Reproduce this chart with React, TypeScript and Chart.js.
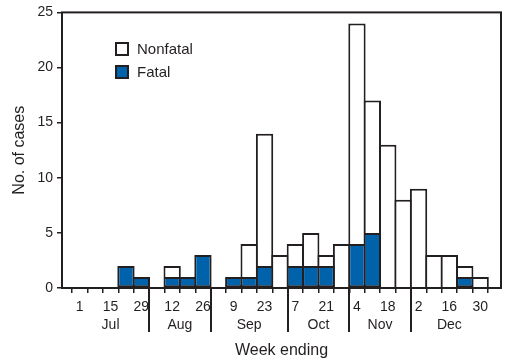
import React, { useEffect, useRef } from 'react';
import { Chart, registerables } from 'chart.js';

Chart.register(...registerables);

// Week-ending day labels (Jul 1 ... Dec 30)
const weekDays = ['1', '8', '15', '22', '29', '5', '12', '19', '26', '2', '9', '16', '23', '30', '7', '14', '21', '28', '4', '11', '18', '25', '2', '9', '16', '23', '30'];
// Total cases per week
const totalCases = [0, 0, 0, 2, 1, 0, 2, 1, 3, 0, 1, 4, 14, 3, 4, 5, 3, 4, 24, 17, 13, 8, 9, 3, 3, 2, 1];
// Fatal cases per week
const fatalCases = [0, 0, 0, 2, 1, 0, 1, 1, 3, 0, 1, 1, 2, 0, 2, 2, 2, 0, 4, 5, 0, 0, 0, 0, 0, 1, 0];
const months = ['Jul', 'Aug', 'Sep', 'Oct', 'Nov', 'Dec'];
const monthWeekCounts = [5, 4, 5, 4, 4, 5];
const yTickValues = [0, 5, 10, 15, 20, 25];

const INK = '#231f20';
const BLUE = '#0062ab';
const FONT = '"Liberation Sans", Arial, Helvetica, sans-serif';

const nonfatalCases = totalCases.map((t, i) => t - fatalCases[i]);

const decorPlugin = {
  id: 'decor',
  afterDatasetsDraw(chart: any) {
    const { ctx, chartArea: ca } = chart;
    ctx.save();
    ctx.strokeStyle = INK;
    ctx.lineWidth = 2;
    ctx.strokeRect(ca.left, ca.top, ca.right - ca.left, ca.bottom - ca.top);
    ctx.restore();
  },
  afterDraw(chart: any) {
    const { ctx, chartArea: ca } = chart;
    const x = chart.scales.x;
    ctx.save();
    // month separators and labels
    ctx.strokeStyle = INK;
    ctx.lineWidth = 2;
    ctx.fillStyle = INK;
    ctx.font = `14px ${FONT}`;
    ctx.textAlign = 'center';
    ctx.textBaseline = 'middle';
    let start = 0;
    months.forEach((m, mi) => {
      const count = monthWeekCounts[mi];
      const center = x.getPixelForValue(start + (count - 1) / 2);
      ctx.fillText(m, center, 325);
      start += count;
      if (mi < months.length - 1) {
        const px = Math.round(x.getPixelForValue(start - 0.5));
        ctx.beginPath();
        ctx.moveTo(px, ca.bottom);
        ctx.lineTo(px, 332);
        ctx.stroke();
      }
    });
    // legend
    const entries = [
      { label: 'Nonfatal', fill: '#ffffff', y: 43 },
      { label: 'Fatal', fill: BLUE, y: 66 },
    ];
    ctx.font = `15px ${FONT}`;
    ctx.textAlign = 'left';
    entries.forEach((e) => {
      ctx.fillStyle = e.fill;
      ctx.fillRect(116, e.y, 12, 12);
      ctx.strokeStyle = INK;
      ctx.lineWidth = 2;
      ctx.strokeRect(116, e.y, 12, 12);
      ctx.fillStyle = INK;
      ctx.fillText(e.label, 137, e.y + 6.5);
    });
    ctx.restore();
  },
};

export default function App() {
  const ref = useRef<HTMLCanvasElement | null>(null);

  useEffect(() => {
    document.body.style.margin = '0';
    const canvas = ref.current;
    if (!canvas) return;
    Chart.defaults.font.family = FONT;
    const chart = new Chart(canvas, {
      type: 'bar',
      data: {
        datasets: [
          {
            label: 'Fatal',
            data: fatalCases.map((v, i) => ({ x: i, y: v > 0 ? v : null })),
            backgroundColor: BLUE,
            borderColor: INK,
            borderWidth: 2,
            borderSkipped: false,
            inflateAmount: 0,
            barPercentage: 1.125,
            categoryPercentage: 1,
          } as any,
          {
            label: 'Nonfatal',
            data: nonfatalCases.map((v, i) => ({ x: i, y: v > 0 ? v : null })),
            backgroundColor: '#ffffff',
            borderColor: INK,
            borderWidth: { top: 2, left: 2, right: 2, bottom: 0 },
            borderSkipped: false,
            inflateAmount: 0,
            barPercentage: 1.125,
            categoryPercentage: 1,
          } as any,
        ],
      },
      options: {
        animation: false,
        responsive: false,
        devicePixelRatio: 1,
        layout: { padding: { left: 0, right: 25, top: 12, bottom: 0 } },
        plugins: {
          legend: { display: false },
          tooltip: { enabled: false },
        },
        scales: {
          x: {
            type: 'linear',
            stacked: true,
            min: -0.625,
            max: 26.825,
            afterBuildTicks: (scale: any) => {
              scale.ticks = weekDays.map((_, i) => ({ value: i }));
            },
            afterFit: (scale: any) => {
              scale.height = 76;
            },
            grid: {
              drawOnChartArea: false,
              drawTicks: true,
              tickLength: 5,
              color: INK,
              lineWidth: 1.5,
            },
            border: { display: false },
            ticks: {
              autoSkip: false,
              maxRotation: 0,
              minRotation: 0,
              padding: 6,
              color: INK,
              font: { size: 14 },
              callback: (value: any) => {
                const i = Math.round(Number(value));
                return i % 2 === 0 ? weekDays[i] : '';
              },
            },
            title: {
              display: true,
              text: 'Week ending',
              color: INK,
              font: { size: 16 },
              padding: { top: 0, bottom: 4 },
            },
          },
          y: {
            type: 'linear',
            stacked: true,
            min: 0,
            max: 25,
            afterBuildTicks: (scale: any) => {
              scale.ticks = yTickValues.map((v) => ({ value: v }));
            },
            afterFit: (scale: any) => {
              scale.width = 62;
            },
            grid: {
              drawOnChartArea: false,
              drawTicks: true,
              tickLength: 5,
              color: INK,
              lineWidth: 1.5,
            },
            border: { display: false },
            ticks: {
              padding: 4,
              color: INK,
              font: { size: 14 },
            },
            title: {
              display: true,
              text: 'No. of cases',
              color: INK,
              font: { size: 16 },
              padding: { top: 10, bottom: 0 },
            },
          },
        },
      } as any,
      plugins: [decorPlugin],
    });
    return () => chart.destroy();
  }, []);

  return <canvas ref={ref} width={526} height={364} style={{ display: 'block' }} />;
}
